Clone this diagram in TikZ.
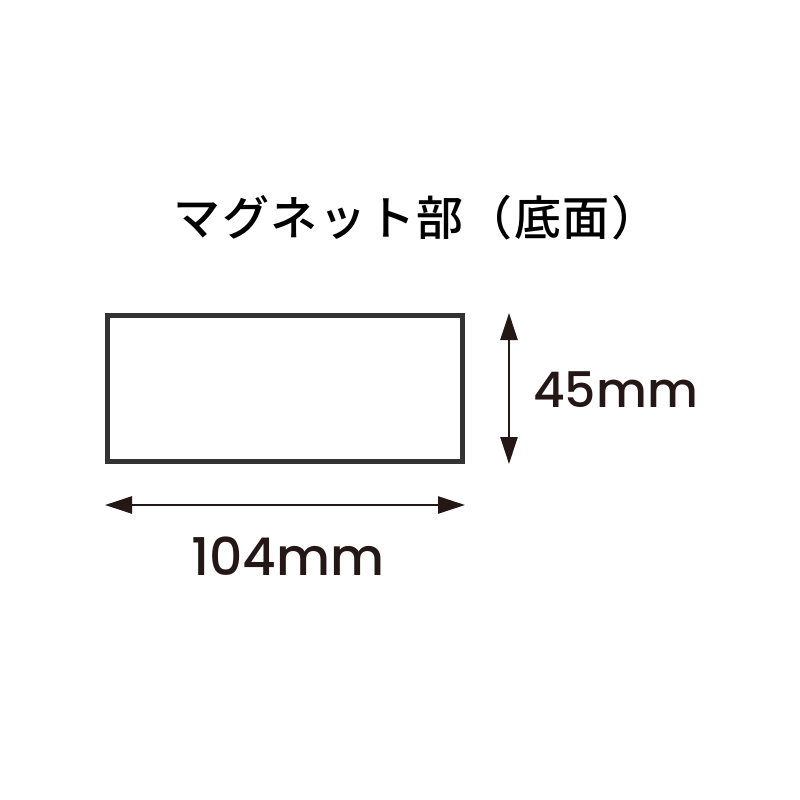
\documentclass[tikz,border=0pt]{standalone}
\usepackage{fontspec}
\setmainfont{Poppins}[UprightFont=* Medium]
\newfontfamily\cjk{Noto Sans CJK JP}[UprightFont=* Medium, LetterSpace=3.5]
\usetikzlibrary{arrows.meta}
\definecolor{ink}{HTML}{231815}
\definecolor{boxc}{HTML}{333333}
\tikzset{
  dim/.style={draw=ink, line width=2.5pt, {Triangle[length=27pt,width=17pt]}-{Triangle[length=27pt,width=17pt]}},
  lbl/.style={text=ink, font=\fontsize{52}{60}\selectfont, inner sep=0pt},
  ttl/.style={text=black, font=\cjk\fontsize{47}{52}\selectfont, inner sep=0pt}
}
\begin{document}
\begin{tikzpicture}[x=1pt,y=-1pt]
\useasboundingbox (0,0) rectangle (800,800);
\node[ttl] (title) at (416,218) {マグネット部（底面）};
\draw[boxc, line width=5pt] (107.5,315.5) rectangle (462.5,461.5);
\coordinate (hl) at (105,505);
\coordinate (hr) at (465,505);
\coordinate (vt) at (509,313);
\coordinate (vb) at (509,464);
\draw[dim] (hl) -- (hr);
\draw[dim] (vt) -- (vb);
\node[lbl, anchor=base west, font=\fontsize{49}{60}\selectfont] (h) at (533,407) {45mm};
\node[lbl, anchor=base] (w) at (288,575) {104mm};
\end{tikzpicture}
\end{document}
